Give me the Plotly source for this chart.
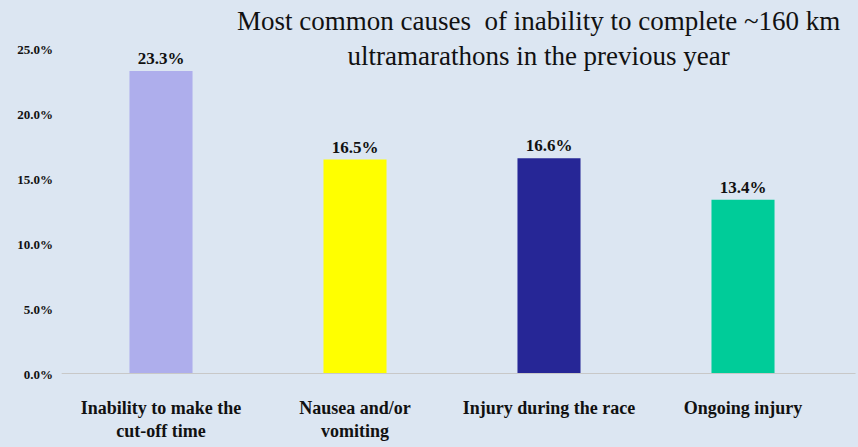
import plotly.graph_objects as go

categories = ["Inability to make the<br>cut-off time", "Nausea and/or<br>vomiting",
              "Injury during the race", "Ongoing injury"]
values = [23.3, 16.5, 16.6, 13.4]
colors = ["#aeaeec", "#ffff00", "#262696", "#00cc99"]
tick_vals = [0, 5, 10, 15, 20, 25]

fig = go.Figure()
fig.add_trace(go.Bar(
    x=categories, y=values,
    marker=dict(color=colors, line=dict(width=0)),
    width=0.325,
    text=[f"<b>{v:.1f}%</b>" for v in values],
    textposition="outside",
    cliponaxis=False,
    textfont=dict(family="Liberation Serif", size=17, color="#111111"),
))

fig.update_layout(
    width=858, height=447,
    margin=dict(l=64, r=18, t=49, b=73),
    paper_bgcolor="#dce6f2", plot_bgcolor="#dce6f2",
    showlegend=False,
    bargap=0.675,
    font=dict(family="Liberation Serif", color="#111111"),
    annotations=[dict(
        text="Most common causes  of inability to complete ~160 km<br>ultramarathons in the previous year",
        x=0.612, xref="paper", y=1.14, yref="paper", yanchor="top", xanchor="center",
        showarrow=False, font=dict(family="Liberation Serif", size=27, color="#111111"),
        align="center",
    )],
    shapes=[dict(type="line", xref="paper", yref="y", x0=-0.003, x1=1.02, y0=0, y1=0,
                 line=dict(color="#c8c8c8", width=2))],
)
fig.update_xaxes(showgrid=False, showline=False, ticks="", automargin=False,
                 tickvals=categories, ticktext=[f"<b>{c}</b>" for c in categories],
                 ticklabelstandoff=21,
                 tickfont=dict(family="Liberation Serif", size=18, color="#111111"))
fig.update_yaxes(range=[0, 25], tickvals=tick_vals, ticktext=[f"<b>{v:.1f}%</b>" for v in tick_vals],
                 showgrid=False, zeroline=False, showline=False, ticks="", automargin=False,
                 ticklabelstandoff=10,
                 tickfont=dict(family="Liberation Serif", size=13, color="#111111"))

fig.write_html("out.html")
